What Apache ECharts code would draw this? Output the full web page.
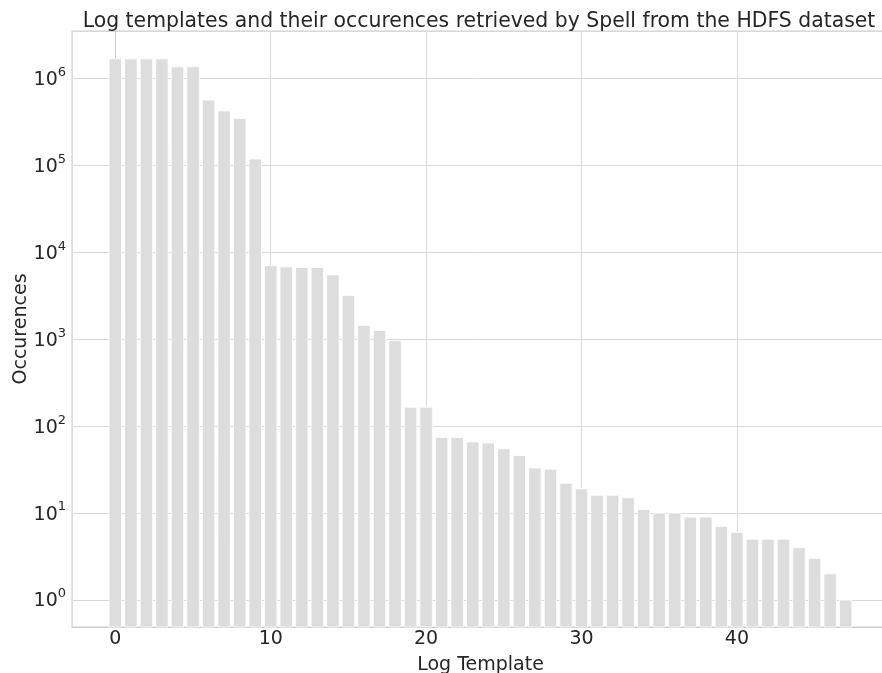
<!DOCTYPE html>
<html>
<head>
<meta charset="utf-8">
<script src="https://cdn.jsdelivr.net/npm/echarts@6/dist/echarts.min.js"></script>
<style>
html, body { margin: 0; padding: 0; background: #fff; }
#main { width: 882px; height: 673px; }
</style>
</head>
<body>
<div id="main"></div>
<script>
// template index and how often each one occurs
var templateIds = [];
for (var i = 0; i < 48; i++) templateIds.push(i);
var occurences = [
	1690000, 1690000, 1690000, 1690000, 1370000, 1370000, 567000, 424000, 348000, 119000,
	7030, 6840, 6720, 6720, 5500, 3200, 1445, 1265, 964, 165,
	165, 74, 74, 66, 64, 55, 46, 33, 32, 22,
	19, 16, 16, 15, 11, 10, 10, 9, 9, 7,
	6, 5, 5, 5, 4, 3, 2, 1
];
var xTickLabels = [0, 10, 20, 30, 40];
var yMin = 0.489, yMax = 3530000;

var barData = [];
for (var k = 0; k < templateIds.length; k++) {
	barData.push([templateIds[k], occurences[k]]);
}

var fontFam = 'DejaVu Sans';
var txt = '#262626';

var chart = echarts.init(document.getElementById('main'));
chart.setOption({
	animation: false,
	backgroundColor: '#fff',
	title: {
		text: 'Log templates and their occurences retrieved by Spell from the HDFS dataset',
		left: 474,
		top: 7,
		textAlign: 'center',
		textStyle: { fontFamily: fontFam, fontSize: 20.4, fontWeight: 'normal', color: txt }
	},
	grid: {
		left: 72, right: -7, top: 31, bottom: 46,
		outerBoundsMode: 'none', containLabel: false,
		show: true, borderColor: '#cccccc', borderWidth: 1
	},
	xAxis: {
		type: 'value',
		min: -2.79,
		max: 49.79,
		splitNumber: 5,
		name: 'Log Template',
		nameLocation: 'middle',
		nameGap: 29,
		nameMoveOverlap: false,
		nameTextStyle: { fontFamily: fontFam, fontSize: 19, color: txt },
		axisLine: { show: true, lineStyle: { color: '#cccccc' } },
		axisTick: { show: false },
		axisLabel: {
			margin: 3, showMinLabel: false, showMaxLabel: false,
			fontFamily: fontFam, fontSize: 19, color: txt,
			formatter: function(v) { return xTickLabels.indexOf(v) >= 0 ? String(v) : ''; }
		},
		splitLine: { show: true, lineStyle: { color: '#dcdcdc', width: 1 } }
	},
	yAxis: {
		type: 'log',
		logBase: 10,
		min: yMin,
		max: yMax,
		name: 'Occurences',
		nameLocation: 'middle',
		nameGap: 41,
		nameMoveOverlap: false,
		nameTextStyle: { fontFamily: fontFam, fontSize: 19, color: txt },
		axisLine: { show: true, lineStyle: { color: '#cccccc' } },
		axisTick: { show: false },
		axisLabel: {
			margin: 6, showMinLabel: false, showMaxLabel: false,
			formatter: function(v) {
				var p = Math.round(Math.log(v) / Math.LN10);
				if (Math.abs(Math.pow(10, p) - v) / v > 1e-6) return '';
				return '{b|10}{s|' + p + '}';
			},
			rich: {
				b: { fontFamily: fontFam, fontSize: 19, color: txt, padding: [3, 0, 0, 0] },
				s: { fontFamily: fontFam, fontSize: 13, color: txt, padding: [0, 0, 12, 0] }
			}
		},
		splitLine: { show: true, lineStyle: { color: '#d8d8d8', width: 1 } }
	},
	series: [{
		type: 'custom',
		data: barData,
		renderItem: function(params, api) {
			var x = api.value(0), v = api.value(1);
			var top = api.coord([x, v]);
			var base = api.coord([x, yMin]);
			var left = api.coord([x - 0.4, v])[0];
			var right = api.coord([x + 0.4, v])[0];
			return {
				type: 'rect',
				shape: { x: left, y: top[1], width: right - left, height: base[1] - top[1] },
				style: { fill: '#dddddd', stroke: '#ffffff', lineWidth: 0.8 }
			};
		}
	}]
});
</script>
</body>
</html>
